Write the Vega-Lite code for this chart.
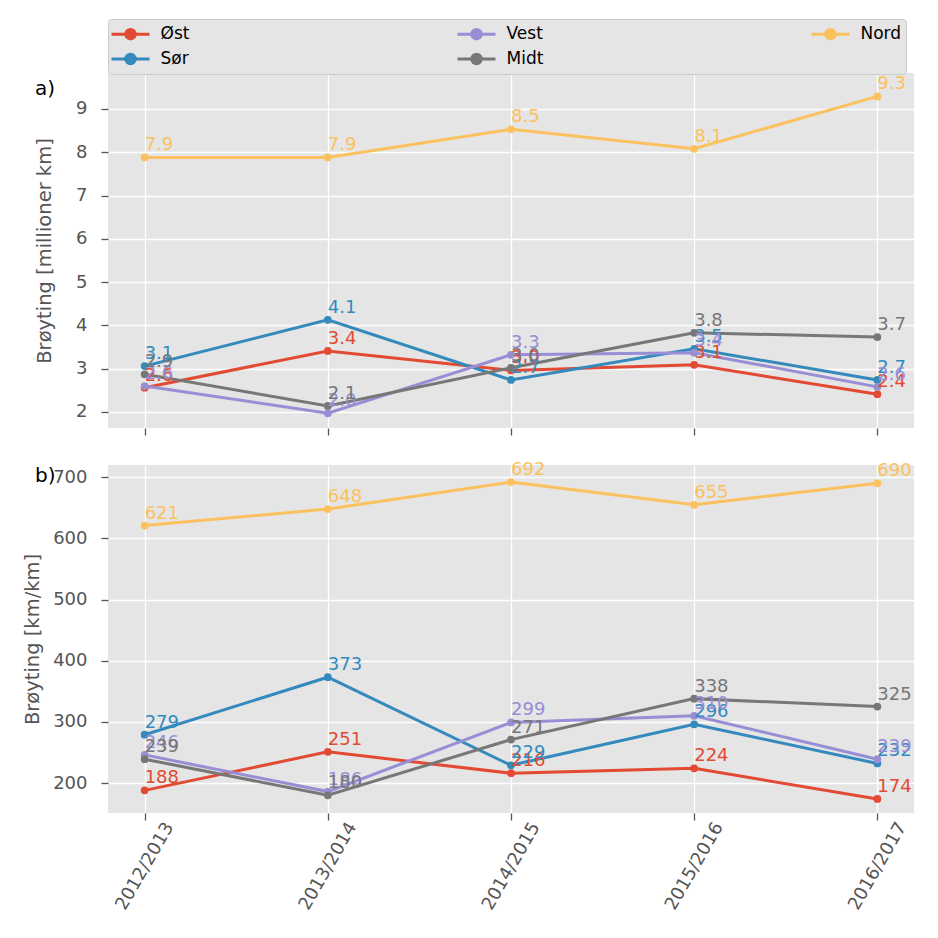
{
  "$schema": "https://vega.github.io/schema/vega-lite/v6.json",
  "background": "white",
  "padding": {"left": 22, "top": 18, "right": 5, "bottom": 5},
  "config": {
    "font": "DejaVu Sans",
    "view": {"fill": "#E5E5E5", "stroke": null},
    "axis": {"gridColor": "white", "gridWidth": 1.3, "domain": false, "tickColor": "#555555", "tickSize": 7, "tickWidth": 1.3, "labelColor": "#555555", "labelFontSize": 18, "titleColor": "#555555", "titleFontSize": 19.5, "titleFontWeight": "normal", "labelPadding": 7},
    "title": {"fontSize": 20, "fontWeight": "normal", "color": "black", "anchor": "start", "frame": "group"},
    "concat": {"spacing": 25}
  },
  "datasets": {
    "d": [
      {"season": "2012/2013", "region": "Øst", "km": 2.56, "kmkm": 188},
      {"season": "2013/2014", "region": "Øst", "km": 3.41, "kmkm": 251},
      {"season": "2014/2015", "region": "Øst", "km": 2.96, "kmkm": 216},
      {"season": "2015/2016", "region": "Øst", "km": 3.09, "kmkm": 224},
      {"season": "2016/2017", "region": "Øst", "km": 2.41, "kmkm": 174},
      {"season": "2012/2013", "region": "Sør", "km": 3.06, "kmkm": 279},
      {"season": "2013/2014", "region": "Sør", "km": 4.13, "kmkm": 373},
      {"season": "2014/2015", "region": "Sør", "km": 2.74, "kmkm": 229},
      {"season": "2015/2016", "region": "Sør", "km": 3.46, "kmkm": 296},
      {"season": "2016/2017", "region": "Sør", "km": 2.74, "kmkm": 232},
      {"season": "2012/2013", "region": "Vest", "km": 2.6, "kmkm": 246},
      {"season": "2013/2014", "region": "Vest", "km": 1.97, "kmkm": 186},
      {"season": "2014/2015", "region": "Vest", "km": 3.32, "kmkm": 299},
      {"season": "2015/2016", "region": "Vest", "km": 3.37, "kmkm": 310},
      {"season": "2016/2017", "region": "Vest", "km": 2.58, "kmkm": 239},
      {"season": "2012/2013", "region": "Midt", "km": 2.87, "kmkm": 239},
      {"season": "2013/2014", "region": "Midt", "km": 2.14, "kmkm": 180},
      {"season": "2014/2015", "region": "Midt", "km": 3.02, "kmkm": 271},
      {"season": "2015/2016", "region": "Midt", "km": 3.83, "kmkm": 338},
      {"season": "2016/2017", "region": "Midt", "km": 3.73, "kmkm": 325},
      {"season": "2012/2013", "region": "Nord", "km": 7.88, "kmkm": 621},
      {"season": "2013/2014", "region": "Nord", "km": 7.88, "kmkm": 648},
      {"season": "2014/2015", "region": "Nord", "km": 8.53, "kmkm": 692},
      {"season": "2015/2016", "region": "Nord", "km": 8.08, "kmkm": 655},
      {"season": "2016/2017", "region": "Nord", "km": 9.29, "kmkm": 690}
    ]
  },
  "vconcat": [
    {
      "width": 806,
      "height": 355,
      "title": {"text": "a)", "dx": -73, "dy": 30},
      "data": {"name": "d"},
      "encoding": {
        "x": {"field": "season", "type": "ordinal", "sort": null, "scale": {"type": "point", "padding": 0.2},
              "axis": {"labels": false, "title": null, "grid": true}},
        "y": {"field": "km", "type": "quantitative", "scale": {"domain": [1.63, 9.83], "nice": false, "zero": false},
              "axis": {"title": "Brøyting [millioner km]", "values": [2,3,4,5,6,7,8,9], "labelPadding": 14, "titlePadding": 21}},
        "color": {"field": "region", "type": "nominal",
                  "scale": {"domain": ["Øst", "Sør", "Vest", "Midt", "Nord"], "range": ["#E24A33", "#348ABD", "#988ED5", "#777777", "#FBC15E"]},
                  "legend": {"title": null, "orient": "none", "legendX": 0, "legendY": -54, "columns": 3, "columnPadding": 261, "rowPadding": 3,
                             "symbolType": "M-2,0L2,0M-0.5,0A0.5,0.5 0 1,1 0.5,0A0.5,0.5 0 1,1 -0.5,0Z", "symbolSize": 361, "symbolStrokeWidth": 3, "symbolOffset": 7.5, "labelOffset": 19,
                             "labelFontSize": 17, "labelColor": "black", "fillColor": "#E5E5E5", "strokeColor": "#CCCCCC", "padding": 4, "cornerRadius": 3}}
      },
      "layer": [
        {"mark": {"type": "line", "strokeWidth": 3}},
        {"mark": {"type": "point", "filled": true, "size": 60, "opacity": 1}},
        {"mark": {"type": "text", "align": "left", "baseline": "alphabetic", "dy": -7, "fontSize": 18},
         "encoding": {"text": {"field": "km", "type": "quantitative", "format": ".1f"}}}
      ]
    },
    {
      "width": 806,
      "height": 348,
      "title": {"text": "b)", "dx": -73, "dy": 29},
      "data": {"name": "d"},
      "encoding": {
        "x": {"field": "season", "type": "ordinal", "sort": null, "scale": {"type": "point", "padding": 0.2},
              "axis": {"labelAngle": -60, "labelAlign": "center", "labelBaseline": "middle", "labelPadding": 46, "title": null, "grid": true}},
        "y": {"field": "kmkm", "type": "quantitative", "scale": {"domain": [151, 720], "nice": false, "zero": false},
              "axis": {"title": "Brøyting [km/km]", "values": [200,300,400,500,600,700], "labelPadding": 14, "titlePadding": 10}},
        "color": {"field": "region", "type": "nominal", "legend": null}
      },
      "layer": [
        {"mark": {"type": "line", "strokeWidth": 3}},
        {"mark": {"type": "point", "filled": true, "size": 60, "opacity": 1}},
        {"mark": {"type": "text", "align": "left", "baseline": "alphabetic", "dy": -7, "fontSize": 18},
         "encoding": {"text": {"field": "kmkm", "type": "quantitative", "format": "d"}}}
      ]
    }
  ]
}
